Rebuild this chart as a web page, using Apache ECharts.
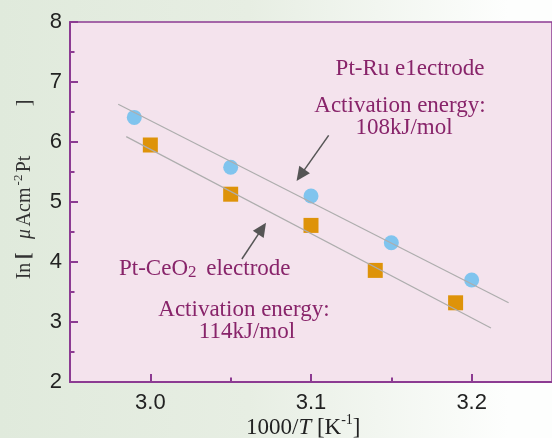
<!DOCTYPE html>
<html><head><meta charset="utf-8">
<script src="https://cdn.jsdelivr.net/npm/echarts@6/dist/echarts.min.js"></script>
<style>
html,body{margin:0;padding:0;}
#c{width:552px;height:438px;background:linear-gradient(90deg,#e0eadc 0%,#e7eee3 45%,#fdfefd 92%);}
</style>
</head><body><div id="c"></div>
<script>
// ---- data ----
const xTicks = [3.0, 3.1, 3.2];
const xMinorTicks = [3.05, 3.15];
const ruX = [2.99, 3.05, 3.10, 3.15, 3.20];
const ruY = [6.41, 5.58, 5.10, 4.32, 3.70];
const ceX = [3.00, 3.05, 3.10, 3.14, 3.19];
const ceY = [5.95, 5.13, 4.61, 3.86, 3.32];
const ruFitX = [2.980, 3.223];
const ruFitY = [6.63, 3.32];
const ceFitX = [2.985, 3.212];
const ceFitY = [6.09, 2.90];
const arrowRu = [[3.111, 6.11], [3.091, 5.35]];
const arrowCe = [[3.057, 4.05], [3.072, 4.655]];

const purple = '#8c3b92';
const txt = '#88246a';
const serif = '"Liberation Serif","Times New Roman",serif';
const sans = '"Liberation Sans",Arial,sans-serif';
const zip = (a, b) => a.map((v, i) => [v, b[i]]);

const chart = echarts.init(document.getElementById('c'), null, {renderer: 'canvas'});
const tickStyle = {color: purple, width: 2};
chart.setOption({
  animation: false,
  backgroundColor: 'transparent',
  grid: {left: 70, top: 22, width: 483, height: 360, show: true,
         backgroundColor: '#f4e3ed', borderColor: purple, borderWidth: 1.5},
  xAxis: [
    {type: 'value', min: 2.95, max: 3.25, position: 'bottom',
     axisLine: {onZero: false, lineStyle: {color: purple, width: 2}},
     axisTick: {inside: true, length: 8, customValues: xTicks, lineStyle: tickStyle},
     axisLabel: {customValues: xTicks, formatter: v => v.toFixed(1), color: '#222',
                 fontSize: 22, fontFamily: sans, margin: 10},
     splitLine: {show: false}},
    {type: 'value', min: 2.95, max: 3.25, position: 'bottom',
     axisLine: {show: false},
     axisTick: {inside: true, length: 4.5, customValues: xMinorTicks, lineStyle: tickStyle},
     axisLabel: {show: false}, splitLine: {show: false}}
  ],
  yAxis: {type: 'value', min: 2, max: 8, interval: 1,
    axisLine: {show: true, onZero: false, lineStyle: {color: purple, width: 2}},
    axisTick: {show: true, inside: true, length: 8, lineStyle: tickStyle},
    minorTick: {show: true, splitNumber: 2, length: 4.5, lineStyle: tickStyle},
    axisLabel: {color: '#222', fontSize: 22, fontFamily: sans, margin: 8},
    splitLine: {show: false}},
  series: [
    {type: 'line', data: zip(ruFitX, ruFitY), symbol: 'none', silent: true,
     lineStyle: {color: '#adadad', width: 1.2}},
    {type: 'line', data: zip(ceFitX, ceFitY), symbol: 'none', silent: true,
     lineStyle: {color: '#adadad', width: 1.2}},
    {type: 'scatter', name: 'Pt-Ru', data: zip(ruX, ruY), symbol: 'circle', symbolSize: 15,
     itemStyle: {color: '#80c4ee', opacity: 1}},
    {type: 'scatter', name: 'Pt-CeO2', data: zip(ceX, ceY), symbol: 'rect', symbolSize: 15,
     itemStyle: {color: '#de9309', opacity: 1}}
  ]
});

const finder = {xAxisIndex: 0, yAxisIndex: 0};
function arrow(a) {
  const p0 = chart.convertToPixel(finder, a[0]);
  const p1 = chart.convertToPixel(finder, a[1]);
  const dx = p1[0] - p0[0], dy = p1[1] - p0[1], L = Math.hypot(dx, dy);
  const ux = dx / L, uy = dy / L, hl = 14, hw = 6.5;
  const bx = p1[0] - ux * hl, by = p1[1] - uy * hl;
  return [
    {type: 'line', silent: true, shape: {x1: p0[0], y1: p0[1], x2: bx + ux * 2, y2: by + uy * 2},
     style: {stroke: '#555', lineWidth: 1.5}},
    {type: 'polygon', silent: true,
     shape: {points: [[p1[0], p1[1]], [bx - uy * hw, by + ux * hw], [bx + uy * hw, by - ux * hw]]},
     style: {fill: '#555'}}
  ];
}
function label(text, x, y, size) {
  return {type: 'text', silent: true, x: x, y: y,
    style: {text: text, fill: txt, fontSize: size, fontFamily: serif,
      align: 'center', verticalAlign: 'middle'}};
}
const mctx = document.createElement('canvas').getContext('2d');
function measure(t, size, style) {
  mctx.font = (style || 'normal') + ' ' + size + 'px ' + serif;
  return mctx.measureText(t).width;
}
// horizontal chain of text pieces starting at left x0, middle y0
function chain(x0, y0, pieces, color) {
  const out = []; let x = x0;
  pieces.forEach(p => {
    out.push({type: 'text', silent: true, x: x, y: y0 + (p.dy || 0),
      style: {text: p.t, fill: color, fontSize: p.s, fontFamily: serif,
        fontStyle: p.i ? 'italic' : 'normal', align: 'left', verticalAlign: 'middle'}});
    x += measure(p.t, p.s, p.i ? 'italic' : 'normal') + (p.gap || 0);
  });
  return out;
}

const A = 23;
let els = [];
els = els.concat(arrow(arrowRu), arrow(arrowCe));
els.push(label('Pt-Ru e1ectrode', 410, 69, A));
els.push(label('Activation energy:', 400, 106, A));
els.push(label('108kJ/mol', 404, 128, A));
els.push(label('Activation energy:', 244, 310, A));
els.push(label('114kJ/mol', 247, 332, A));
els = els.concat(chain(119, 269, [
  {t: 'Pt-CeO', s: A}, {t: '2', s: 17, dy: 4, gap: 4}, {t: ' electrode', s: A}], txt));
// x axis name
els = els.concat(chain(246, 428, [
  {t: '1000/', s: 23}, {t: 'T', s: 23, i: true}, {t: ' [K', s: 23},
  {t: '-1', s: 14, dy: -8}, {t: ']', s: 23}], '#222'));
// y axis name (rotated pieces)
const yl = '#333';
const R = Math.PI / 2;
[['In', 271, 20, 25, 'normal', 'normal'],
 ['[', 256, 20, 25, 'normal', 'bold'],
 ['\u03bc', 234, 20, 25, 'italic', 'normal'],
 ['Acm', 207, 20, 25, 'normal', 'normal'],
 ['-2', 180, 13, 19, 'normal', 'normal'],
 ['Pt', 164, 20, 25, 'normal', 'normal'],
 [']', 103, 20, 25, 'normal', 'normal']].forEach(p => {
  els.push({type: 'text', silent: true, x: p[3], y: p[1], rotation: R,
    style: {text: p[0], fill: yl, fontSize: p[2], fontFamily: serif, fontStyle: p[4],
      fontWeight: p[5], align: 'center', verticalAlign: 'middle'}});
});
chart.setOption({graphic: els});
</script>
</body></html>
